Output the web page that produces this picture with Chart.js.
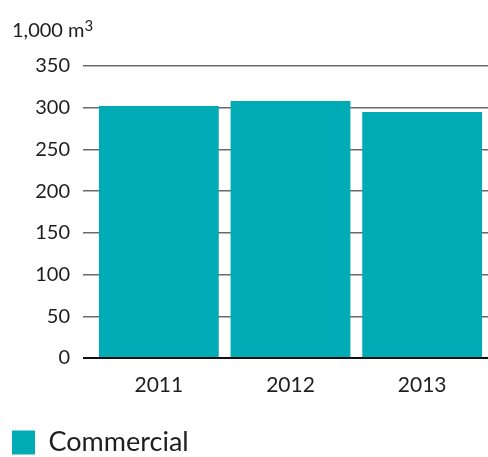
<!DOCTYPE html>
<html>
<head>
<meta charset="utf-8">
<script src="https://cdn.jsdelivr.net/npm/chart.js@4/dist/chart.umd.min.js"></script>
<style>
  html, body { margin: 0; padding: 0; background: #ffffff; }
  #wrap { position: relative; width: 488px; height: 457px; }
</style>
</head>
<body>
<div id="wrap"><canvas id="c" width="488" height="457"></canvas></div>
<script>
// Water use, thousand cubic metres
const years = ['2011', '2012', '2013'];
const commercial = [302, 308, 295];
const yTicks = [0, 50, 100, 150, 200, 250, 300, 350];
const unitBase = '1,000 m';
const unitPower = '3';
const seriesName = 'Commercial';

const TEAL = '#00abb5';
const INK = '#1e1e1e';
const FONT = 'Lato';

// Unit caption above the value axis (1,000 m³ with a raised exponent)
const unitCaption = {
  id: 'unitCaption',
  afterDraw(chart) {
    const ctx = chart.ctx;
    ctx.save();
    ctx.fillStyle = INK;
    ctx.textAlign = 'left';
    ctx.textBaseline = 'alphabetic';
    ctx.font = '20px ' + FONT;
    ctx.fillText(unitBase, 12, 37);
    const w = ctx.measureText(unitBase).width;
    ctx.font = '15px ' + FONT;
    ctx.fillText(unitPower, 12 + w, 31);
    ctx.restore();
  }
};

new Chart(document.getElementById('c'), {
  type: 'bar',
  data: {
    labels: years,
    datasets: [{
      label: seriesName,
      data: commercial,
      backgroundColor: TEAL,
      borderWidth: 0,
      barPercentage: 0.91,
      categoryPercentage: 1.0
    }]
  },
  options: {
    responsive: false,
    animation: false,
    layout: { padding: { left: 0, right: 0, top: 66, bottom: -9 } },
    plugins: {
      title: { display: false },
      legend: {
        position: 'bottom',
        align: 'start',
        labels: {
          color: INK,
          font: { family: FONT, size: 27 },
          boxWidth: 23,
          boxHeight: 24,
          padding: 12
        }
      },
      tooltip: { enabled: false }
    },
    scales: {
      x: {
        grid: { display: false },
        border: { display: false },
        ticks: { color: INK, font: { family: FONT, size: 21 }, padding: 7 },
        afterFit: (axis) => { axis.height = 59; }
      },
      y: {
        min: 0,
        max: 350,
        afterBuildTicks: (axis) => { axis.ticks = yTicks.map(v => ({ value: v })); },
        afterFit: (axis) => { axis.width = 93; },
        border: { display: false },
        grid: {
          color: (ctx) => ctx.tick && ctx.tick.value === 0 ? '#111' : '#6a6a6a',
          lineWidth: (ctx) => ctx.tick && ctx.tick.value === 0 ? 2 : 1.5,
          tickLength: 10,
          drawTicks: true
        },
        ticks: {
          color: INK,
          font: { family: FONT, size: 20 },
          padding: 13
        }
      }
    }
  },
  plugins: [unitCaption]
});
</script>
</body>
</html>
